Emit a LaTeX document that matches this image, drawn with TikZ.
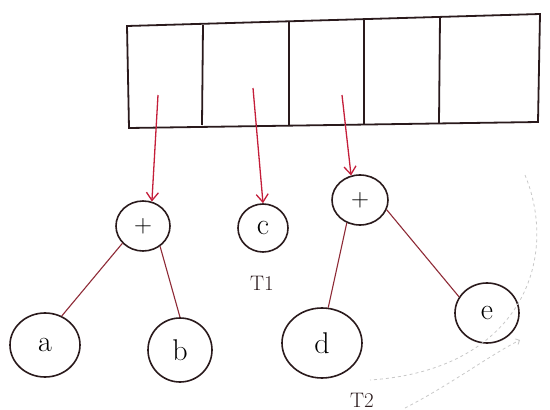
\documentclass[tikz,border=0pt]{standalone}
\usetikzlibrary{arrows.meta,shapes.geometric}
\definecolor{ink}{HTML}{2A1A1C}
\definecolor{redink}{HTML}{C41E3A}
\definecolor{edgeink}{HTML}{8E2A36}
\definecolor{faint}{HTML}{C8C8C8}
\begin{document}
\begin{tikzpicture}[x=1pt,y=-1pt,
  cellline/.style={ink, line width=1.8pt},
  vnode/.style={draw=ink, line width=1.6pt, ellipse, inner sep=0pt, font=\fontsize{30}{30}\selectfont},
  ptr/.style={redink, line width=1.3pt, -{Straight Barb[length=8pt,width=12pt]}},
  treeedge/.style={edgeink, line width=1.1pt},
  tlabel/.style={font=\fontsize{21}{21}\selectfont, text=ink}]
  \useasboundingbox (0,0) rectangle (550,410);
  % the array of five cells
  \draw[cellline] (127,26) -- (540,14) -- (538,122) -- (129,128) -- cycle;
  \foreach \xa/\ya/\xb/\yb in {203/25/202/125, 289/22/289/126, 364/19/364/124, 440/17/439/123}
    \draw[cellline] (\xa,\ya) -- (\xb,\yb);
  % anchors inside the first three cells
  \coordinate (p1) at (158,95);
  \coordinate (p2) at (253,88);
  \coordinate (p3) at (342,95);
  % tree nodes
  \node[vnode, minimum width=54pt, minimum height=50pt] (plus1) at (143,226) {$+$};
  \node[vnode, minimum width=50pt, minimum height=48pt] (c) at (263,228) {c};
  \node[vnode, minimum width=56pt, minimum height=50pt] (plus2) at (360,200) {$+$};
  \node[vnode, minimum width=70pt, minimum height=64pt] (a) at (45,345) {a};
  \node[vnode, minimum width=64pt, minimum height=64pt] (b) at (180,350) {b};
  \node[vnode, minimum width=80pt, minimum height=70pt] (d) at (322,343) {d};
  \node[vnode, minimum width=64pt, minimum height=60pt] (e) at (487,313) {e};
  % pointers from the array
  \draw[ptr] (p1) -- (plus1.70);
  \draw[ptr] (p2) -- (c.north);
  \draw[ptr] (p3) -- (plus2.110);
  % edges
  \draw[treeedge] (plus1.220) -- (a.60);
  \draw[treeedge] (plus1.-50) -- (b.90);
  \draw[treeedge] (plus2.-120) -- (d.80);
  \draw[treeedge] (plus2.-20) -- (e.150);
  % tree labels
  \node[tlabel] (t1) at (262,283) {T1};
  \node[tlabel] (t2) at (362,400) {T2};
  % faint dashed sweep round the second tree
  \coordinate (s1) at (525,175);
  \coordinate (s2) at (370,380);
  \draw[faint, dashed, line width=0.8pt] (s1) .. controls (560,260) and (520,370) .. (s2);
  \coordinate (s3) at (405,408);
  \coordinate (s4) at (520,340);
  \draw[faint, dashed, line width=0.8pt, -{Straight Barb}] (s3) .. controls (450,385) and (490,355) .. (s4);
\end{tikzpicture}
\end{document}
